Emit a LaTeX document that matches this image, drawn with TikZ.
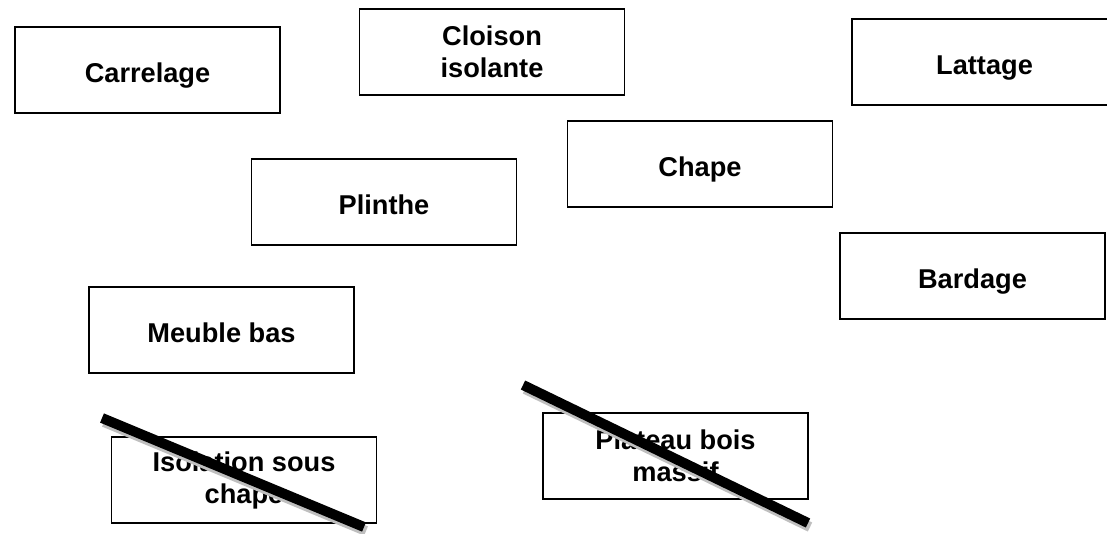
\documentclass[tikz,border=0pt]{standalone}
\usepackage{fontspec}
\setmainfont{Liberation Sans}
\begin{document}
\begin{tikzpicture}[x=1pt,y=-1pt,
  card/.style={draw=black,line width=1.6pt,fill=white,minimum width=265pt,minimum height=86pt,inner sep=0pt,align=center,font=\bfseries\fontsize{27.2}{32}\selectfont},
  oneline/.style={text height=24pt,text depth=0pt},
  strike/.style={line width=10pt,black},
  strikeshadow/.style={line width=10pt,black!25}]
\useasboundingbox[fill=white] (0,0) rectangle (1107,533);
\node[card,oneline] (carrelage) at (147.5,70) {Carrelage};
\node[card] (cloison) at (492,52) {Cloison\\isolante};
\node[card,oneline] (lattage) at (984.5,62) {Lattage};
\node[card,oneline] (chape) at (700,164) {Chape};
\node[card,oneline] (plinthe) at (384,202) {Plinthe};
\node[card,oneline] (bardage) at (972.5,276) {Bardage};
\node[card,oneline] (meuble) at (221.5,330) {Meuble bas};
\node[card] (isolation) at (244,480) {Isolation sous\\chape};
\node[card] (plateau) at (675.5,456) {Plateau bois\\massif};
\coordinate (a1) at (102,418);
\coordinate (a2) at (364,527);
\coordinate (b1) at (523,385);
\coordinate (b2) at (808,523);
\draw[strikeshadow] ([shift={(2,4)}]a1) -- ([shift={(2,4)}]a2);
\draw[strike] (a1) -- (a2);
\draw[strikeshadow] ([shift={(2,4)}]b1) -- ([shift={(2,4)}]b2);
\draw[strike] (b1) -- (b2);
\end{tikzpicture}
\end{document}
